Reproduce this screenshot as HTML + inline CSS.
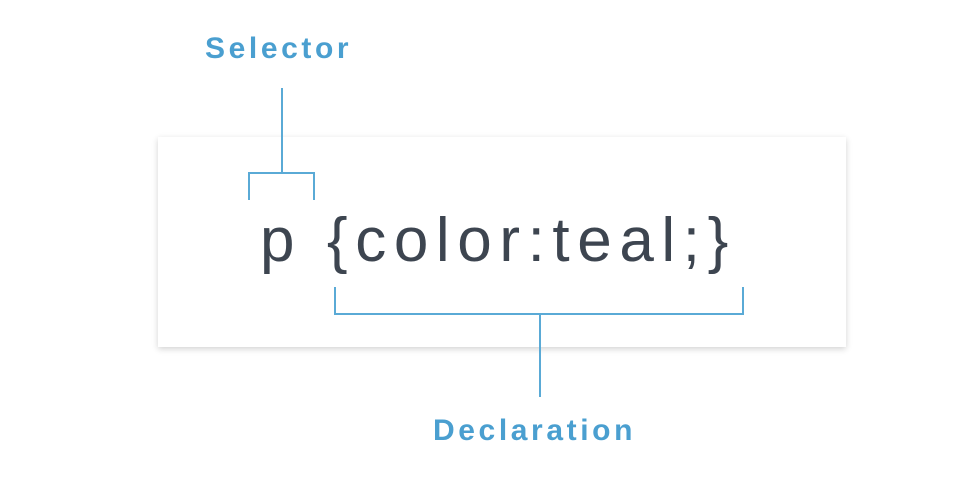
<!DOCTYPE html>
<html><head><style>
html,body{margin:0;padding:0;background:#fff;width:970px;height:502px;overflow:hidden;position:relative;font-family:"Liberation Sans",sans-serif}
.box{position:absolute;left:158px;top:137px;width:688px;height:210px;background:#fff;box-shadow:0 2px 6px rgba(0,0,0,0.18)}
.lbl{position:absolute;color:#4a9fd0;font-weight:bold;font-size:30px;letter-spacing:3.6px}
.code{position:absolute;left:260px;top:206px;font-size:62px;color:#3d4550;letter-spacing:7.6px;white-space:nowrap;line-height:70px}
svg{position:absolute;left:0;top:0}
</style></head><body>
<div class="lbl" style="left:205px;top:32px">Selector</div>
<div class="box"></div>
<div class="code">p {color:teal;}</div>
<svg width="970" height="502"><g stroke="#5aaad6" stroke-width="2" fill="none">
<path d="M282 88V173M249 200V173H314V200"/>
<path d="M335 287V314H743V287M540 314V397"/>
</g></svg>
<div class="lbl" style="left:433px;top:414px">Declaration</div>
</body></html>
